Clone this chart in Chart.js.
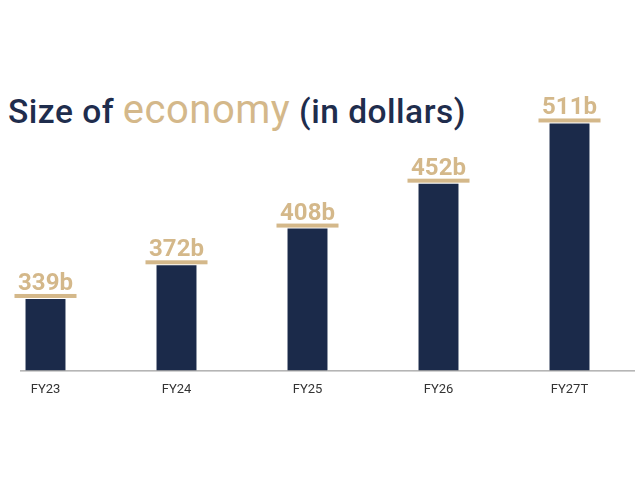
<!DOCTYPE html>
<html><head><meta charset="utf-8">
<script src="https://cdn.jsdelivr.net/npm/chart.js@4"></script>
<style>
body{margin:0;background:#fff;width:640px;height:480px;overflow:hidden;position:relative;font-family:Roboto,sans-serif}
#t{position:absolute;left:8px;top:86px;font-size:33.5px;color:#1f2d4d;white-space:nowrap;letter-spacing:0.5px;font-weight:500}
#t .e{color:#d4b88a;font-size:40px;font-weight:400}
#w{position:absolute;left:-20px;top:0;width:680px;height:480px}
</style></head><body>
<div id="t">Size of <span class="e">economy</span> (in dollars)</div>
<div id="w"><canvas id="c"></canvas></div>
<script>
const categories=["FY23","FY24","FY25","FY26","FY27T"];
const values=[339,372,408,452,511];
const labels=["339b","372b","408b","452b","511b"];
const gold='#d4b88a', navy='#1b2a4a';
const deco={id:'deco',afterDatasetsDraw(ch){
 const ctx=ch.ctx, y0=ch.scales.y.bottom;
 ctx.save();
 ctx.strokeStyle='#888';ctx.lineWidth=1;
 ctx.beginPath();ctx.moveTo(40,y0+0.5);ctx.lineTo(655,y0+0.5);ctx.stroke();
 ch.getDatasetMeta(0).data.forEach((b,i)=>{
  ctx.fillStyle=gold;
  ctx.fillRect(b.x-31,b.y-5,62,4);
  ctx.font='bold 24px Roboto, sans-serif';
  ctx.textAlign='center';ctx.textBaseline='bottom';
  ctx.fillText(labels[i],b.x,b.y-3);
 });
 ctx.restore();
}};
new Chart(document.getElementById('c'),{
 type:'bar',
 data:{labels:categories,datasets:[{data:values,backgroundColor:navy,categoryPercentage:1,barPercentage:0.305}]},
 options:{responsive:true,maintainAspectRatio:false,animation:false,
  layout:{padding:{left:0,right:25,top:100,bottom:78}},
  plugins:{legend:{display:false},tooltip:{enabled:false}},
  scales:{
   x:{grid:{display:false},border:{display:false},ticks:{color:'#333',font:{size:13,family:'Roboto'},padding:4}},
   y:{min:269,max:534,display:false}
  }},
 plugins:[deco]
});
</script></body></html>
